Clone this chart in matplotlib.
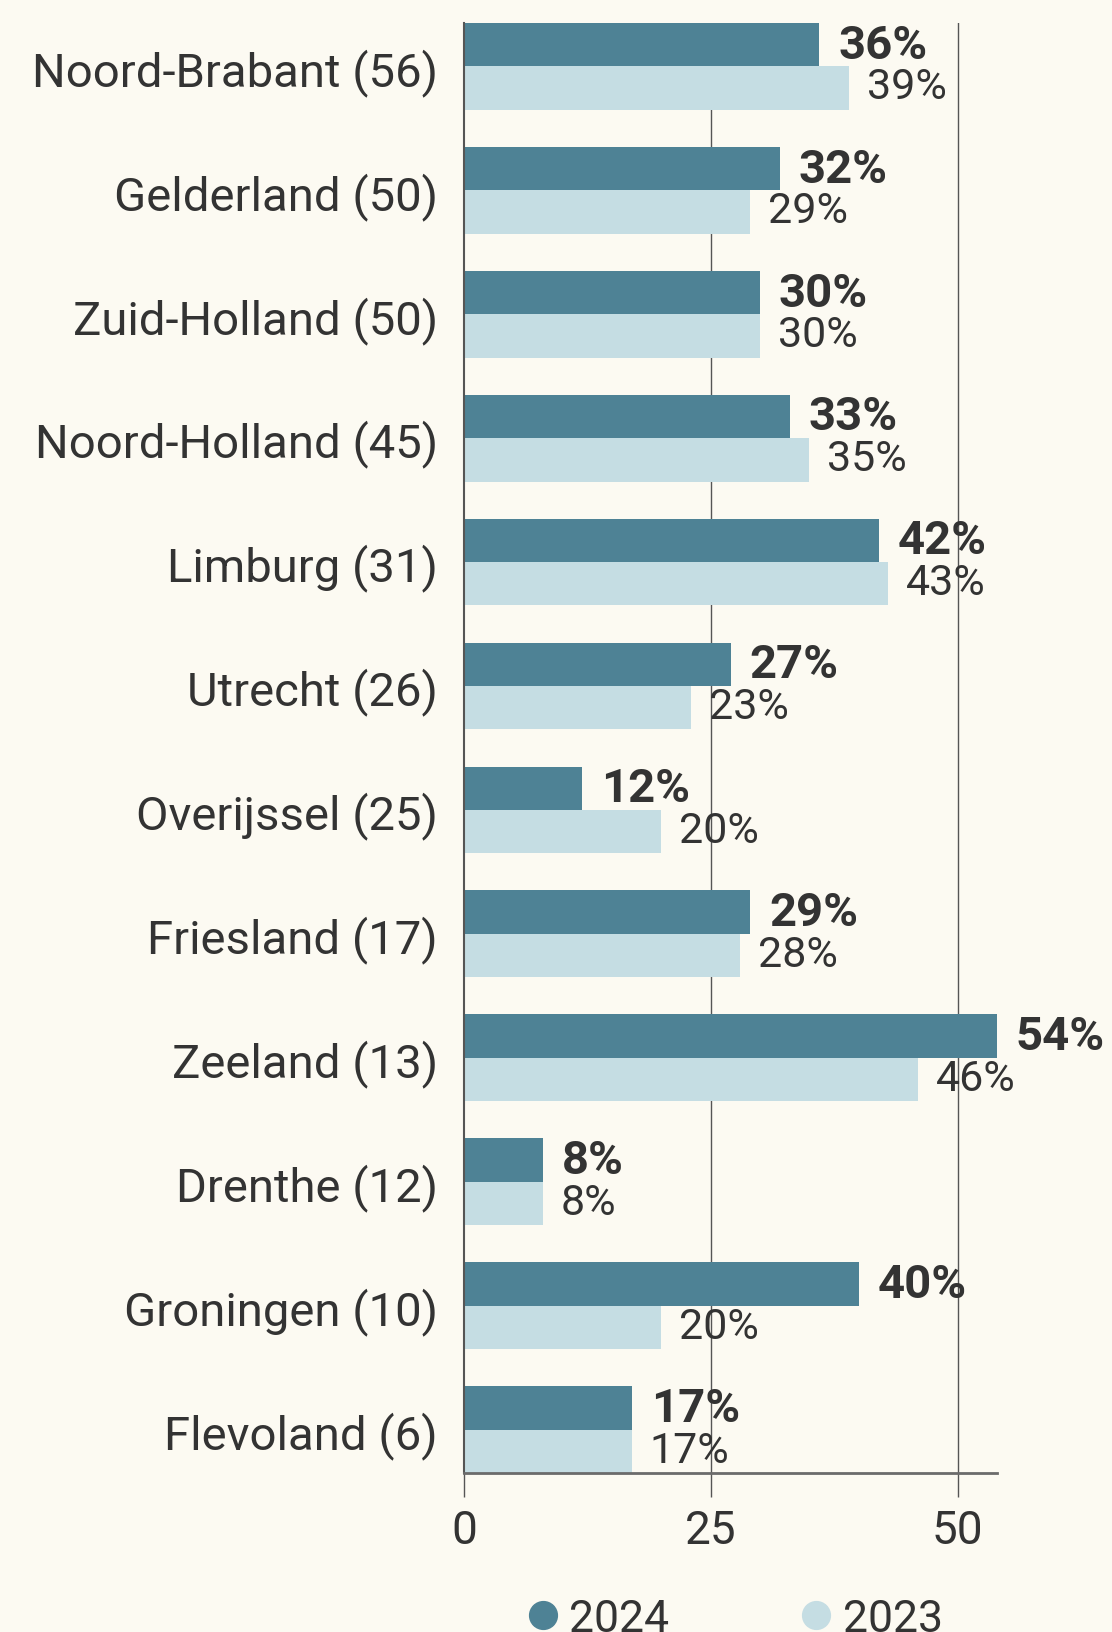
"""
Provincies: aandeel 2024 vs 2023
"""
import matplotlib
matplotlib.use('Agg')
import matplotlib.pyplot as plt
from matplotlib.lines import Line2D

plt.rcParams['font.family'] = ['Roboto', 'DejaVu Sans']

# data
provincies = ['Noord-Brabant (56)', 'Gelderland (50)', 'Zuid-Holland (50)', 'Noord-Holland (45)',
              'Limburg (31)', 'Utrecht (26)', 'Overijssel (25)', 'Friesland (17)',
              'Zeeland (13)', 'Drenthe (12)', 'Groningen (10)', 'Flevoland (6)']
waarden_2024 = [36, 32, 30, 33, 42, 27, 12, 29, 54, 8, 40, 17]
waarden_2023 = [39, 29, 30, 35, 43, 23, 20, 28, 46, 8, 20, 17]
x_ticks = [0, 25, 50]

bg = '#fcfaf2'
donker = '#4e8295'
licht = '#c5dde3'
tekst = '#333333'

fig = plt.figure(figsize=(11.12, 16.33), dpi=100, facecolor=bg)
ax = fig.add_axes([0.4173, 0.0974, 0.8966 - 0.4173, 0.9853 - 0.0974])
ax.set_facecolor(bg)

h = 0.35
y = list(range(len(provincies)))
ax.barh([i - h / 2 for i in y], waarden_2024, height=h, color=donker, zorder=2)
ax.barh([i + h / 2 for i in y], waarden_2023, height=h, color=licht, zorder=2)

# waardelabels
for i, (a, b) in enumerate(zip(waarden_2024, waarden_2023)):
    ax.text(a + 1.9, i - h / 2, f'{a}%', ha='left', va='center',
            fontsize=34, fontweight='bold', color=tekst, zorder=3)
    ax.text(b + 1.8, i + h / 2 - 0.01, f'{b}%', ha='left', va='center',
            fontsize=31, color=tekst, zorder=3)

ax.set_xlim(0, 54)
ax.set_ylim(len(provincies) - 1 + h, -h)
ax.set_yticks(y)
ax.set_yticklabels(provincies)
ax.set_xticks(x_ticks)
ax.tick_params(axis='y', length=0, pad=19, labelsize=34, labelcolor=tekst)
ax.tick_params(axis='x', length=17, width=1, color='#555555', pad=8,
               labelsize=33, labelcolor=tekst)

for t in x_ticks[1:]:
    ax.axvline(t, color='#555555', linewidth=1, zorder=1)

for s in ['top', 'right']:
    ax.spines[s].set_visible(False)
ax.spines['left'].set_color('#555555')
ax.spines['left'].set_linewidth(1.5)
ax.spines['bottom'].set_color('#6b6b6b')
ax.spines['bottom'].set_linewidth(2)

handles = [Line2D([], [], marker='o', linestyle='', markersize=20, color=donker),
           Line2D([], [], marker='o', linestyle='', markersize=20, color=licht)]
fig.legend(handles, ['2024', '2023'], loc='center', bbox_to_anchor=(0.658, 0.008),
           ncol=2, frameon=False, fontsize=32, handletextpad=0.1,
           columnspacing=2.8, handlelength=1.0, labelcolor=tekst)

fig.savefig('out.png', dpi=100, facecolor=bg)
